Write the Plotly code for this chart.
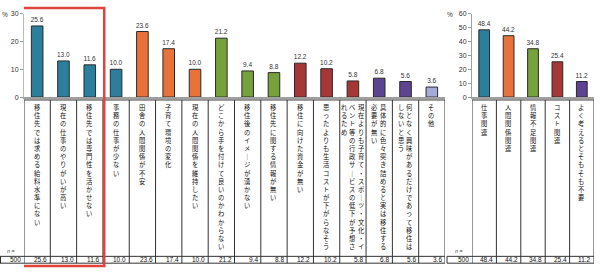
import plotly.graph_objects as go

# ---------------- data ----------------
categories_left = [
    "移住先では求める給料水準にない",
    "現在の仕事のやりがいが高い",
    "移住先では専門性を活かせない",
    "事務の仕事が少ない",
    "田舎の人間関係が不安",
    "子育て環境の変化",
    "現在の人間関係を維持したい",
    "どこから手を付けて良いのかわからない",
    "移住後のイメージが湧かない",
    "移住先に関する情報が無い",
    "移住に向けた資金が無い",
    "思ったよりも生活コストが下がらなそう",
    "現在よりも子育て・スポーツ・文化・イベント等の行政サービスの低下が予想されるため",
    "具体的に色々突き詰めると実は移住する必要が無い",
    "何となく興味があるだけであって移住はしないと思う",
    "その他",
]
values_left = [25.6, 13.0, 11.6, 10.0, 23.6, 17.4, 10.0, 21.2, 9.4, 8.8, 12.2, 10.2, 5.8, 6.8, 5.6, 3.6]

categories_right = ["仕事関連", "人間関係関連", "情報不足関連", "コスト関連", "よく考えるとそもそも不要"]
values_right = [48.4, 44.2, 34.8, 25.4, 11.2]

n_total = 500
left_ticks = [0, 10, 20, 30]
right_ticks = [0, 10, 20, 30, 40, 50, 60]

# ---------------- styles ----------------
TEAL, ORANGE, GREEN, RED, PURPLE, LAV = "#2b7f9c", "#e8733a", "#77a13b", "#a63737", "#5d4491", "#a3acd8"
colors_left = [TEAL] * 4 + [ORANGE] * 3 + [GREEN] * 3 + [RED] * 3 + [PURPLE] * 2 + [LAV]
colors_right = [TEAL, ORANGE, GREEN, RED, PURPLE]

W, H = 602, 273
def px(x):
    return x / W
def py(y):
    return (H - y) / H

FONT = "Noto Sans CJK JP, Liberation Sans, sans-serif"
TXT = "#111111"
GRID = "#333333"

fig = go.Figure()
fig.add_trace(go.Bar(
    x=list(range(len(values_left))), y=values_left,
    marker=dict(color=colors_left, line=dict(color="#2a2a2a", width=1)),
    width=0.44, text=[f"{v:.1f}" for v in values_left], textposition="outside",
    textfont=dict(size=6.5, color="#333333", family="Liberation Sans"),
    constraintext="none", cliponaxis=False, xaxis="x", yaxis="y", hoverinfo="skip",
))
fig.add_trace(go.Bar(
    x=list(range(len(values_right))), y=values_right,
    marker=dict(color=colors_right, line=dict(color="#2a2a2a", width=1)),
    width=0.44, text=[f"{v:.1f}" for v in values_right], textposition="outside",
    textfont=dict(size=6.5, color="#333333", family="Liberation Sans"),
    constraintext="none", cliponaxis=False, xaxis="x2", yaxis="y2", hoverinfo="skip",
))

ydom = [py(95.5), py(10)]
axis_common = dict(showgrid=False, zeroline=False, fixedrange=True)
fig.update_layout(
    width=W, height=H, margin=dict(l=0, r=0, t=0, b=0),
    paper_bgcolor="white", plot_bgcolor="white", showlegend=False,
    font=dict(family=FONT, color=TXT),
    xaxis=dict(domain=[px(24), px(445)], range=[-0.5, len(values_left) - 0.5], anchor="y",
               showticklabels=False, showline=True, linecolor="#a0a0a0", linewidth=1.5, **axis_common),
    yaxis=dict(domain=ydom, range=[0, 30], tickvals=left_ticks, anchor="x",
               ticks="outside", ticklen=3, tickcolor="#999999", showline=True, linecolor="#bbbbbb",
               tickfont=dict(size=7, color="#333333", family="Liberation Sans"), **axis_common),
    xaxis2=dict(domain=[px(472), px(594)], range=[-0.5, len(values_right) - 0.5], anchor="y2",
                showticklabels=False, showline=True, linecolor="#a0a0a0", linewidth=1.5, **axis_common),
    yaxis2=dict(domain=ydom, range=[0, 60], tickvals=right_ticks, anchor="x2",
                ticks="outside", ticklen=3, tickcolor="#999999", showline=True, linecolor="#a0a0a0",
                tickfont=dict(size=7, color="#333333", family="Liberation Sans"), **axis_common),
)

shapes = []
annotations = []

def vline(xref, x, y0, y1, color=GRID, width=1):
    shapes.append(dict(type="line", xref=xref, yref="paper", x0=x, x1=x, y0=py(y0), y1=py(y1),
                       line=dict(color=color, width=width)))

def hline(xref, x0, x1, y, color=GRID, width=1):
    shapes.append(dict(type="line", xref=xref, yref="paper", x0=x0, x1=x1, y0=py(y), y1=py(y),
                       line=dict(color=color, width=width)))

TOP, ROW0, ROW1 = 98.5, 259, 266

# left table grid
nL = len(values_left)
for k in range(nL + 1):
    vline("x", k - 0.5, TOP, ROW1)
hline("x", -0.5, nL - 0.5, TOP)
hline("paper", px(0), px(445), ROW0)
hline("paper", px(0), px(445), ROW1)
vline("paper", px(0.5), ROW0, ROW1)

# right table grid
nR = len(values_right)
for k in range(nR + 1):
    vline("x2", k - 0.5, TOP, ROW1)
hline("x2", -0.5, nR - 0.5, TOP)
hline("paper", px(447), px(594), ROW0)
hline("paper", px(447), px(594), ROW1)
vline("paper", px(447), ROW0, ROW1)

# red highlight box
shapes.append(dict(type="rect", xref="x", yref="paper", x0=-0.55, x1=2.55, y0=py(269), y1=py(4),
                   line=dict(color="#e2443b", width=2.5), fillcolor="rgba(0,0,0,0)"))

# vertical labels
def vert(s):
    return "<br>".join("｜" if c == "ー" else c for c in s)

def add_labels(cats, xref):
    for i, lab in enumerate(cats):
        chunks = [lab[j:j + 18] for j in range(0, len(lab), 18)]
        n = len(chunks)
        for j, ch in enumerate(chunks):
            off = ((n - 1) / 2 - j) * 8.5
            annotations.append(dict(xref=xref, yref="paper", x=i, y=py(100), yanchor="top",
                                    xanchor="center", xshift=off, text=vert(ch), showarrow=False,
                                    align="center", font=dict(size=6.3, color=TXT, family=FONT)))

add_labels(categories_left, "x")
add_labels(categories_right, "x2")

# bottom value row
def add_values(vals, xref):
    for i, v in enumerate(vals):
        annotations.append(dict(xref=xref, yref="paper", x=i + 0.5, y=py(262.5), xanchor="right",
                                yanchor="middle", xshift=-1, text=f"{v:.1f}", showarrow=False,
                                font=dict(size=6.5, color=TXT, family="Liberation Sans")))

add_values(values_left, "x")
add_values(values_right, "x2")

for xr in (23, 471):
    annotations.append(dict(xref="paper", yref="paper", x=px(xr), y=py(262.5), xanchor="right",
                            yanchor="middle", text=str(n_total), showarrow=False,
                            font=dict(size=6.5, color=TXT, family="Liberation Sans")))
for xn in (11, 459):
    annotations.append(dict(xref="paper", yref="paper", x=px(xn), y=py(253), xanchor="center",
                            yanchor="middle", text="<i>n</i> =", showarrow=False,
                            font=dict(size=5.5, color="#444444", family="Liberation Sans")))
for xp in (5, 450):
    annotations.append(dict(xref="paper", yref="paper", x=px(xp), y=py(11), xanchor="center",
                            yanchor="middle", text="%", showarrow=False,
                            font=dict(size=6.5, color="#333333", family="Liberation Sans")))

fig.update_layout(shapes=shapes, annotations=annotations)
fig.write_html("out.html")
